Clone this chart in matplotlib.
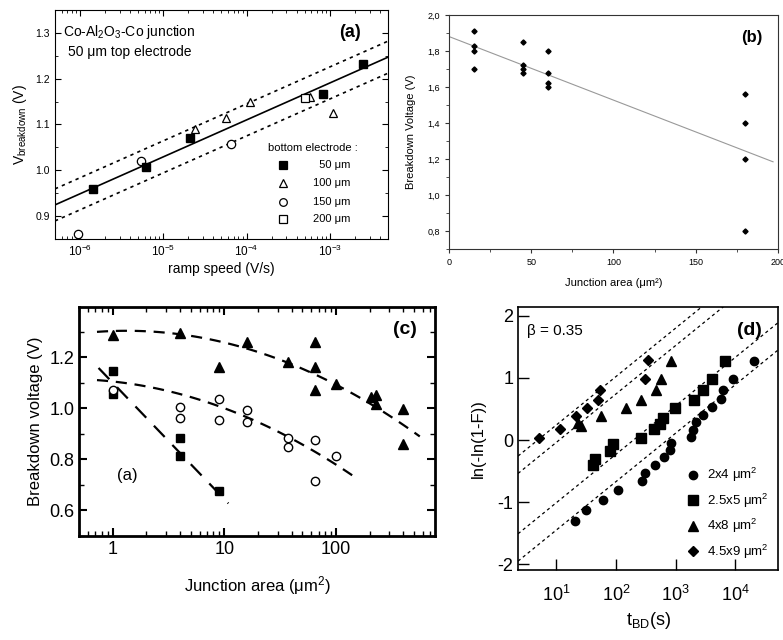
import numpy as np
import matplotlib
matplotlib.use('Agg')
import matplotlib.pyplot as plt
from matplotlib.ticker import MultipleLocator, FuncFormatter, LogLocator, NullLocator, NullFormatter

plt.rcParams['font.family'] = ['Liberation Sans', 'DejaVu Sans']
plt.rcParams['mathtext.fontset'] = 'custom'
plt.rcParams['mathtext.rm'] = 'Liberation Sans'
plt.rcParams['mathtext.it'] = 'Liberation Sans:italic'
plt.rcParams['mathtext.bf'] = 'Liberation Sans:bold'
plt.rcParams['axes.unicode_minus'] = False

# ---- panel (a): breakdown voltage vs ramp speed
a50_x = [1.44e-6, 6.2e-6, 2.1e-5, 8.3e-4, 2.5e-3]
a50_y = [0.959, 1.007, 1.07, 1.167, 1.233]
a100_x = [2.4e-5, 5.6e-5, 1.1e-4, 5.8e-4, 1.1e-3]
a100_y = [1.09, 1.115, 1.15, 1.16, 1.124]
a150_x = [9.5e-7, 5.4e-6, 6.5e-5]
a150_y = [0.861, 1.02, 1.057]
a200_x = [5.1e-4]
a200_y = [1.157]
a_band = 0.035
a_labels = ['  50 μm', '100 μm', '150 μm', '200 μm']

# ---- panel (b): breakdown voltage vs junction area (linear)
b_x = [15, 15, 15, 15, 45, 45, 45, 45, 60, 60, 60, 60, 180, 180, 180, 180]
b_y = [1.91, 1.83, 1.80, 1.70, 1.85, 1.72, 1.70, 1.68,
       1.80, 1.68, 1.62, 1.60, 1.56, 1.40, 1.20, 0.80]

# ---- panel (c): breakdown voltage vs junction area (log)
c_tri_x = [1, 4, 9, 16, 37, 65, 65, 65, 100, 207, 229, 229, 400, 400]
c_tri_y = [1.286, 1.294, 1.16, 1.26, 1.18, 1.26, 1.16, 1.07, 1.094, 1.043, 1.05, 1.015, 0.996, 0.86]
c_sq_x = [1, 1, 4, 4, 9]
c_sq_y = [1.145, 1.055, 0.882, 0.812, 0.678]
c_ci_x = [1, 4, 4, 9, 9, 16, 16, 37, 37, 65, 65, 100]
c_ci_y = [1.071, 1.005, 0.96, 1.035, 0.955, 0.992, 0.945, 0.882, 0.847, 0.875, 0.714, 0.812]
# guide curves: polynomial coefficients in log10(area), highest order first, and log10 range
c_tri_curve = [-0.0600, 0.0150, 1.3020]
c_tri_range = (-0.14, 2.75)
c_ci_curve = [-0.0581, -0.0465, 1.1046]
c_ci_range = (-0.14, 2.16)
c_sq_curve = [-0.456, 1.10]
c_sq_range = (-0.126, 1.036)

# ---- panel (d): Weibull plot
d_ci_x = [20.8, 31.8, 60, 107, 279, 309, 458, 630, 795, 850, 1820, 1990, 2210, 2930,
          4150, 5740, 6330, 9300, 20700]
d_ci_y = [-1.30, -1.12, -0.96, -0.80, -0.66, -0.53, -0.40, -0.27, -0.16, -0.05, 0.05,
          0.16, 0.29, 0.40, 0.53, 0.66, 0.80, 0.99, 1.27]
d_sq_x = [42, 45, 80, 91, 263, 428, 553, 612, 981, 2040, 2860, 4150, 6600]
d_sq_y = [-0.40, -0.30, -0.17, -0.065, 0.04, 0.17, 0.265, 0.36, 0.52, 0.65, 0.80, 0.98, 1.27]
d_tr_x = [23, 26, 56, 145, 268, 473, 566, 830]
d_tr_y = [0.28, 0.23, 0.38, 0.52, 0.65, 0.80, 0.98, 1.27]
d_di_x = [5.2, 11.4, 21.6, 32.7, 50, 54.6, 306, 339]
d_di_y = [0.04, 0.17, 0.39, 0.52, 0.65, 0.80, 0.99, 1.28]
d_slope = 0.78                      # per decade
d_intercepts = [-0.54, -0.82, -1.79, -2.23]
d_labels = ['2x4 μm$^2$', '2.5x5 μm$^2$', '4x8 μm$^2$', '4.5x9 μm$^2$']

fig = plt.figure(figsize=(7.83, 6.4), dpi=100)

# ================= (a)
ax = fig.add_axes([0.0702, 0.6266, 0.4253, 0.3578])
ax.set_xscale('log')
ax.set_xlim(5e-7, 5e-3)
ax.set_ylim(0.85, 1.35)
p = np.polyfit(np.log10(a50_x), a50_y, 1)
lx = np.linspace(np.log10(5e-7), np.log10(5e-3), 50)
ax.plot(10**lx, np.polyval(p, lx), color='k', lw=1.2)
ax.plot(10**lx, np.polyval(p, lx) + a_band, color='k', lw=1.2, ls=(0, (2, 2.5)))
ax.plot(10**lx, np.polyval(p, lx) - a_band, color='k', lw=1.2, ls=(0, (2, 2.5)))
ax.plot(a100_x, a100_y, '^', ms=6, mfc='white', mec='k', mew=0.9)
ax.plot(a200_x, a200_y, 's', ms=6, mfc='white', mec='k', mew=0.9)
ax.plot(a150_x, a150_y, 'o', ms=6, mfc='white', mec='k', mew=0.9)
ax.plot(a50_x, a50_y, 's', ms=6, color='k')
ax.yaxis.set_major_locator(MultipleLocator(0.1))
ax.yaxis.set_minor_locator(MultipleLocator(0.05))
ax.xaxis.set_minor_locator(LogLocator(subs=np.arange(2, 10)))
ax.xaxis.set_minor_formatter(NullFormatter())
ax.tick_params(which='both', direction='in', top=True, right=True, labelsize=7.5)
ax.tick_params(axis='x', labelsize=8.5)
ax.tick_params(which='major', length=4)
ax.tick_params(which='minor', length=2)
ax.set_xlabel('ramp speed (V/s)', fontsize=10, labelpad=2)
ax.set_ylabel(r'V$_{\mathrm{breakdown}}$ (V)', fontsize=10, labelpad=5)
ax.text(0.025, 0.905, r'Co-Al$_2$O$_3$-Co junction', transform=ax.transAxes, fontsize=10, va='center')
ax.text(0.04, 0.817, '50 μm top electrode', transform=ax.transAxes, fontsize=10, va='center')
ax.text(0.886, 0.90, '(a)', transform=ax.transAxes, fontsize=13, fontweight='bold', ha='center', va='center')
ax.text(0.64, 0.397, 'bottom electrode :', transform=ax.transAxes, fontsize=8, va='center')
leg_y = [0.323, 0.245, 0.162, 0.087]
leg_style = [dict(marker='s', mfc='k', mec='k'), dict(marker='^', mfc='white', mec='k'),
             dict(marker='o', mfc='white', mec='k'), dict(marker='s', mfc='white', mec='k')]
for yy, lab, st in zip(leg_y, a_labels, leg_style):
    ax.plot([0.685], [yy], transform=ax.transAxes, ms=5.5, mew=0.9, ls='none', **st)
    ax.text(0.886, yy, lab, transform=ax.transAxes, fontsize=8, va='center', ha='right')

# ================= (b)
ax = fig.add_axes([0.5734, 0.6109, 0.4202, 0.3656])
ax.set_xlim(0, 200)
ax.set_ylim(0.7, 2.0)
p = np.polyfit(b_x, b_y, 1)
lx = np.linspace(0, 197, 10)
ax.plot(lx, np.polyval(p, lx), color='#999999', lw=0.8)
ax.plot(b_x, b_y, 'D', ms=2.6, color='k')
ax.set_yticks([0.8, 1.0, 1.2, 1.4, 1.6, 1.8, 2.0])
ax.yaxis.set_minor_locator(MultipleLocator(0.1))
ax.xaxis.set_major_locator(MultipleLocator(50))
ax.xaxis.set_minor_locator(MultipleLocator(25))
ax.yaxis.set_major_formatter(FuncFormatter(lambda v, pos: f'{v:.1f}'.replace('.', ',')))
ax.tick_params(which='both', direction='out', labelsize=6.5, color='#333333')
ax.tick_params(which='major', length=3)
ax.tick_params(which='minor', length=2)
for s in ax.spines.values():
    s.set_linewidth(0.8)
    s.set_color('#333333')
ax.set_xlabel('Junction area (μm²)', fontsize=8, labelpad=8)
ax.set_ylabel('Breakdown Voltage (V)', fontsize=8, labelpad=8)
ax.text(0.921, 0.906, '(b)', transform=ax.transAxes, fontsize=12, fontweight='bold', ha='center', va='center')

# ================= (c)
ax = fig.add_axes([0.1009, 0.1625, 0.4547, 0.3578])
ax.set_xscale('log')
ax.set_xlim(0.5, 770)
ax.set_ylim(0.5, 1.396)
for coef, rng, dash in [(c_tri_curve, c_tri_range, (5, 3.5)), (c_ci_curve, c_ci_range, (5, 3.5)),
                        (c_sq_curve, c_sq_range, (7, 5))]:
    lx = np.linspace(rng[0], rng[1], 80)
    ax.plot(10**lx, np.polyval(coef, lx), color='k', lw=1.6, ls=(0, dash))
ax.plot(c_tri_x, c_tri_y, '^', ms=6.5, color='k')
ax.plot(c_sq_x, c_sq_y, 's', ms=6, color='k')
ax.plot(c_ci_x, c_ci_y, 'o', ms=6, mfc='white', mec='k', mew=1)
ax.set_yticks([0.6, 0.8, 1.0, 1.2])
ax.yaxis.set_minor_locator(MultipleLocator(0.1))
ax.xaxis.set_minor_locator(LogLocator(subs=np.arange(2, 10)))
ax.xaxis.set_minor_formatter(NullFormatter())
ax.xaxis.set_major_formatter(FuncFormatter(lambda v, pos: f'{v:g}'))
ax.tick_params(which='both', direction='in', top=True, right=True, labelsize=13, width=1.5)
ax.tick_params(which='major', length=6)
ax.tick_params(which='minor', length=3.5, width=1)
for s in ax.spines.values():
    s.set_linewidth(2)
ax.set_xlabel('Junction area (μm$^2$)', fontsize=12, labelpad=12)
ax.set_ylabel('Breakdown voltage (V)', fontsize=12, labelpad=4)
ax.text(0.135, 0.266, '(a)', transform=ax.transAxes, fontsize=12, ha='center', va='center')
ax.text(0.916, 0.90, '(c)', transform=ax.transAxes, fontsize=14, fontweight='bold', ha='center', va='center')

# ================= (d)
ax = fig.add_axes([0.6616, 0.1094, 0.3321, 0.4109])
ax.set_xscale('log')
ax.set_xlim(2.3, 52000)
ax.set_ylim(-2.09, 2.14)
lx = np.linspace(np.log10(2.3), np.log10(52000), 50)
for b0 in d_intercepts:
    ax.plot(10**lx, b0 + d_slope * lx, color='k', lw=0.9, ls=(0, (2.5, 2.5)))
ax.plot(d_ci_x, d_ci_y, 'o', ms=6, color='k', label=d_labels[0])
ax.plot(d_sq_x, d_sq_y, 's', ms=6.5, color='k', label=d_labels[1])
ax.plot(d_tr_x, d_tr_y, '^', ms=6.5, color='k', label=d_labels[2])
ax.plot(d_di_x, d_di_y, 'D', ms=5, color='k', label=d_labels[3])
ax.set_yticks([-2, -1, 0, 1, 2])
ax.set_xticks([10, 100, 1000, 10000])
ax.xaxis.set_minor_locator(NullLocator())
ax.tick_params(which='major', direction='in', length=8, width=1, labelsize=13)
ax.tick_params(axis='x', pad=11)
for s in ax.spines.values():
    s.set_linewidth(1.2)
ax.legend(loc='lower right', bbox_to_anchor=(1.0, 0.0), frameon=False, fontsize=9.5,
          handletextpad=0.5, labelspacing=0.55, handlelength=1.2, borderpad=0.2)
ax.set_xlabel('t$_{\\mathrm{BD}}$(s)', fontsize=13, labelpad=3)
ax.set_ylabel('ln(-ln(1-F))', fontsize=12, labelpad=8)
ax.text(0.035, 0.91, 'β = 0.35', transform=ax.transAxes, fontsize=11, va='center')
ax.text(0.89, 0.91, '(d)', transform=ax.transAxes, fontsize=14, fontweight='bold', ha='center', va='center')

fig.savefig('out.png', dpi=100)
